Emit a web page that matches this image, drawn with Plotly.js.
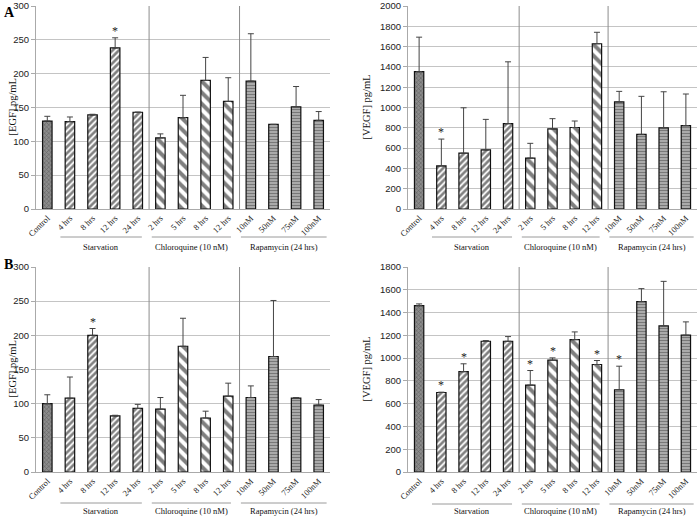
<!DOCTYPE html>
<html>
<head>
<meta charset="utf-8">
<script src="https://cdn.plot.ly/plotly-3.0.1.min.js"></script>
<style>html,body{margin:0;padding:0;background:#fff;}#chart{width:700px;height:516px;}</style>
</head>
<body>
<div id="chart"></div>
<script>
// ---- data ----
const categories = ['Control','4 hrs','8 hrs','12 hrs','24 hrs','2 hrs','5 hrs','8 hrs','12 hrs','10nM','50nM','75nM','100nM'];
const groupOf = [0,1,1,1,1,2,2,2,2,3,3,3,3];
const groupNames = ['Starvation','Chloroquine (10 nM)','Rapamycin (24 hrs)'];

const egfA      = [130, 129, 139, 238, 143, 105, 135, 190, 159, 189, 125, 151, 131];
const egfAErr   = [7, 7, 1, 15, 0, 6, 33, 34, 35, 70, 0, 30, 13];
const egfAStar  = [3];

const vegfA     = [1353, 424, 550, 582, 841, 502, 790, 803, 1628, 1055, 735, 800, 822];
const vegfAErr  = [340, 265, 447, 301, 609, 145, 100, 64, 113, 104, 375, 355, 311];
const vegfAStar = [1];

const egfB      = [100, 108, 200, 82, 93, 92, 184, 79, 111, 109, 169, 108, 98];
const egfBErr   = [13, 31, 10, 1, 6, 17, 41, 10, 19, 17, 82, 1, 8];
const egfBStar  = [2];

const vegfB     = [1461, 698, 882, 1148, 1148, 763, 982, 1163, 944, 722, 1496, 1283, 1201];
const vegfBErr  = [15, 3, 68, 6, 41, 128, 20, 67, 35, 207, 114, 391, 117];
const vegfBStar = [1, 2, 5, 6, 8, 9];

const yTicksEGF  = [0, 50, 100, 150, 200, 250, 300];
const yTicksVEGFA = [0,200,400,600,800,1000,1200,1400,1600,1800,2000];
const yTicksVEGFB = [0,200,400,600,800,1000,1200,1400,1600,1800];

// ---- styles ----
const pat = [
  {shape:'x',  fg:'#333333', bg:'#8c8c8c', size:3, sol:0.35},
  {shape:'/',  fg:'#000000', bg:'#ffffff', size:4.5, sol:0.6},
  {shape:'\\', fg:'#000000', bg:'#ffffff', size:8, sol:0.5},
  {shape:'-',  fg:'#3c3c3c', bg:'#b4b4b4', size:3, sol:0.45}
];
const idx = categories.map((c,i)=>i);

function barTraces(vals, errs, xa, ya){
  return pat.map((p, g) => {
    const ii = idx.filter(i => groupOf[i] === g);
    return {
      type:'bar', x: ii, y: ii.map(i=>vals[i]), xaxis: xa, yaxis: ya, width: 0.42,
      marker:{
        color: p.bg,
        line:{color:'#111', width:1.2},
        pattern:{shape: p.shape, fgcolor: p.fg, bgcolor: p.bg, size: p.size, solidity: p.sol, fillmode:'overlay'}
      },
      error_y:{type:'data', symmetric:false, array: ii.map(i=>errs[i]), arrayminus: ii.map(()=>0),
        color:'#444', thickness:1, width:3},
      hoverinfo:'skip'
    };
  });
}

const data = [].concat(
  barTraces(egfA, egfAErr, 'x', 'y'),
  barTraces(vegfA, vegfAErr, 'x2', 'y2'),
  barTraces(egfB, egfBErr, 'x3', 'y3'),
  barTraces(vegfB, vegfBErr, 'x4', 'y4')
);

const W = 700, H = 516;
const px = v => v / W;
const py = v => 1 - v / H;

function xAxis(domain, anchor){
  return {domain: domain, anchor: anchor, range:[-0.5, 12.5],
    tickmode:'array', tickvals: idx, ticktext: categories, tickangle:-45,
    tickfont:{family:'Liberation Serif', size:8.5, color:'#222'},
    showgrid:false, showline:true, linecolor:'#aaaaaa', linewidth:1,
    ticks:'', zeroline:false, automargin:false, fixedrange:true};
}
function yAxis(domain, anchor, range, ticks){
  return {domain: domain, anchor: anchor, range: range,
    tickmode:'array', tickvals: ticks,
    showgrid:true, gridcolor:'#c4c4c4', gridwidth:1,
    showline:true, linecolor:'#aaaaaa', linewidth:1,
    ticks:'outside', ticklen:4, tickcolor:'#aaaaaa',
    tickfont:{family:'Liberation Sans', size:9.5, color:'#222'},
    zeroline:false, automargin:false, fixedrange:true};
}

const xL = [px(36), px(330)], xR = [px(408), px(697)];
const yT = [py(209), py(6)], yB = [py(472), py(267)];

const layout = {
  width: W, height: H, margin:{l:0, r:0, t:0, b:0},
  paper_bgcolor:'#fff', plot_bgcolor:'#fff', showlegend:false, barmode:'overlay',
  xaxis: xAxis(xL, 'y'),   yaxis: yAxis(yT, 'x', [0,300], yTicksEGF),
  xaxis2: xAxis(xR, 'y2'), yaxis2: yAxis(yT, 'x2', [0,2000], yTicksVEGFA),
  xaxis3: xAxis(xL, 'y3'), yaxis3: yAxis(yB, 'x3', [0,300], yTicksEGF),
  xaxis4: xAxis(xR, 'y4'), yaxis4: yAxis(yB, 'x4', [0,1800], yTicksVEGFB),
  shapes: [], annotations: []
};

const panels = [
  {xa:'x',  ya:'y',  vals:egfA,  errs:egfAErr,  stars:egfAStar,  lineY:237, textY:247},
  {xa:'x2', ya:'y2', vals:vegfA, errs:vegfAErr, stars:vegfAStar, lineY:237, textY:247},
  {xa:'x3', ya:'y3', vals:egfB,  errs:egfBErr,  stars:egfBStar,  lineY:503, textY:511},
  {xa:'x4', ya:'y4', vals:vegfB, errs:vegfBErr, stars:vegfBStar, lineY:504, textY:511}
];
const groupSpan = [[0.58, 4.18], [4.62, 8.12], [8.56, 12.35]];

panels.forEach(p => {
  [4.5, 8.5].forEach(xs => layout.shapes.push({type:'line', xref:p.xa, yref:p.ya+' domain',
    x0:xs, x1:xs, y0:0, y1:1, line:{color:'#8c8c8c', width:1}}));
  groupSpan.forEach((s, gi) => {
    layout.shapes.push({type:'line', xref:p.xa, yref:'paper', x0:s[0], x1:s[1],
      y0:py(p.lineY), y1:py(p.lineY), line:{color:'#9a9a9a', width:1}});
    layout.annotations.push({xref:p.xa, yref:'paper', x:(s[0]+s[1])/2, y:py(p.textY),
      text: groupNames[gi], showarrow:false, xanchor:'center', yanchor:'middle',
      font:{family:'Liberation Serif', size:8.5, color:'#111'}});
  });
  p.stars.forEach(i => layout.annotations.push({xref:p.xa, yref:p.ya, x:i, y:p.vals[i]+p.errs[i],
    text:'*', showarrow:false, xanchor:'center', yanchor:'bottom', yshift:-2,
    font:{family:'Liberation Serif', size:12, color:'#222'}}));
});

[[px(12), (yT[0]+yT[1])/2, '[EGF] pg/mL'], [px(366), (yT[0]+yT[1])/2, '[VEGF] pg/mL'],
 [px(12), (yB[0]+yB[1])/2, '[EGF] pg/mL'], [px(366), (yB[0]+yB[1])/2, '[VEGF] pg/mL']].forEach(t =>
  layout.annotations.push({xref:'paper', yref:'paper', x:t[0], y:t[1], text:t[2], textangle:-90,
    showarrow:false, xanchor:'center', yanchor:'middle',
    font:{family:'Liberation Serif', size:10.5, color:'#111'}}));

[['A', 12], ['B', 264]].forEach(l => layout.annotations.push({xref:'paper', yref:'paper',
  x:px(2), y:py(l[1]), text:'<b>'+l[0]+'</b>', showarrow:false, xanchor:'left', yanchor:'middle',
  font:{family:'Liberation Serif', size:14, color:'#000'}}));

Plotly.newPlot('chart', data, layout, {staticPlot:true, displayModeBar:false});
</script>
</body>
</html>
